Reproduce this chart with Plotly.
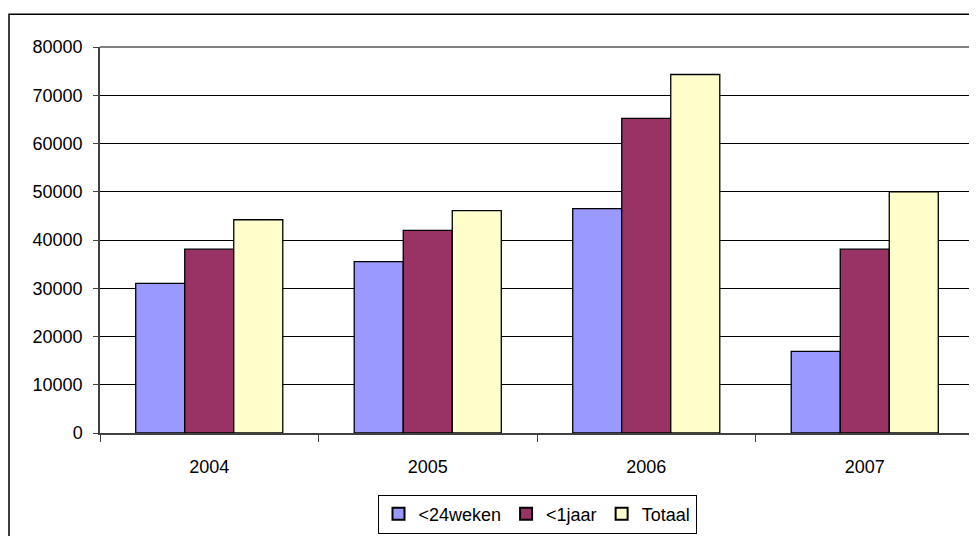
import plotly.graph_objects as go

years = ["2004", "2005", "2006", "2007"]
weken24 = [31000, 35500, 46500, 16900]
jaar1 = [38100, 42000, 65200, 38100]
totaal = [44200, 46100, 74300, 50000]

series_names = ["<24weken", "<1jaar", "Totaal"]
series_colors = ["#9999FF", "#993366", "#FFFFCC"]
y_ticks = [0, 10000, 20000, 30000, 40000, 50000, 60000, 70000, 80000]

FONT = "Liberation Sans, Arial, sans-serif"
FS = 18

fig = go.Figure()
for name, vals, col in zip(series_names, [weken24, jaar1, totaal], series_colors):
    fig.add_trace(go.Bar(
        x=years, y=vals, name=name,
        marker=dict(color=col, line=dict(color="#000000", width=1.3)),
    ))

# page body has an 8px margin; the figure is sized to fit the window
OFF = 8
W, H = 977 - OFF, 536 - OFF
ml, mr, mt, mb = 100 - OFF, 3, 47 - OFF, 100
pw = W - ml - mr
ph = H - mt - mb

def px_x(px):
    return (px - OFF - ml) / pw

def px_y(py):
    return (H - mb - (py - OFF)) / ph

fig.update_layout(
    width=W, height=H,
    margin=dict(l=ml, r=mr, t=mt, b=mb, pad=0),
    paper_bgcolor="white", plot_bgcolor="white",
    barmode="group", bargap=0.327, bargroupgap=0,
    font=dict(family=FONT, size=FS, color="black"),
    showlegend=True,
    legend=dict(
        orientation="h", x=0.5, xanchor="center",
        y=px_y(498), yanchor="top",
        bordercolor="black", borderwidth=1, bgcolor="white",
        font=dict(family=FONT, size=FS, color="black"),
        itemsizing="constant",
    ),
    xaxis=dict(
        type="category",
        showgrid=False,
        showline=True, linecolor="#404040", linewidth=1.5,
        ticks="outside", tickson="boundaries", ticklen=7, tickcolor="#404040", tickwidth=1,
        ticklabelstandoff=17,
        tickfont=dict(family=FONT, size=FS, color="black"),
    ),
    yaxis=dict(
        range=[0, 80000],
        tickvals=y_ticks, ticktext=[str(v) for v in y_ticks],
        showgrid=True, gridcolor="#000000", gridwidth=1,
        zeroline=False,
        showline=True, linecolor="#404040", linewidth=1.5,
        ticks="outside", ticklen=5, tickcolor="#404040", tickwidth=1,
        ticklabelstandoff=7,
        tickfont=dict(family=FONT, size=FS, color="black"),
    ),
    shapes=[
        dict(type="line", xref="paper", yref="paper", x0=0, x1=1, y0=1, y1=1,
             line=dict(color="#808080", width=2), layer="above"),
        dict(type="line", xref="paper", yref="paper", x0=1, x1=1, y0=0, y1=1,
             line=dict(color="#808080", width=2), layer="above"),
        dict(type="rect", xref="paper", yref="paper",
             x0=px_x(9), x1=px_x(977 + 20), y0=px_y(536 + 20), y1=px_y(14),
             line=dict(color="#000000", width=1.5), fillcolor="rgba(0,0,0,0)", layer="above"),
    ],
)

fig.write_html("out.html")
